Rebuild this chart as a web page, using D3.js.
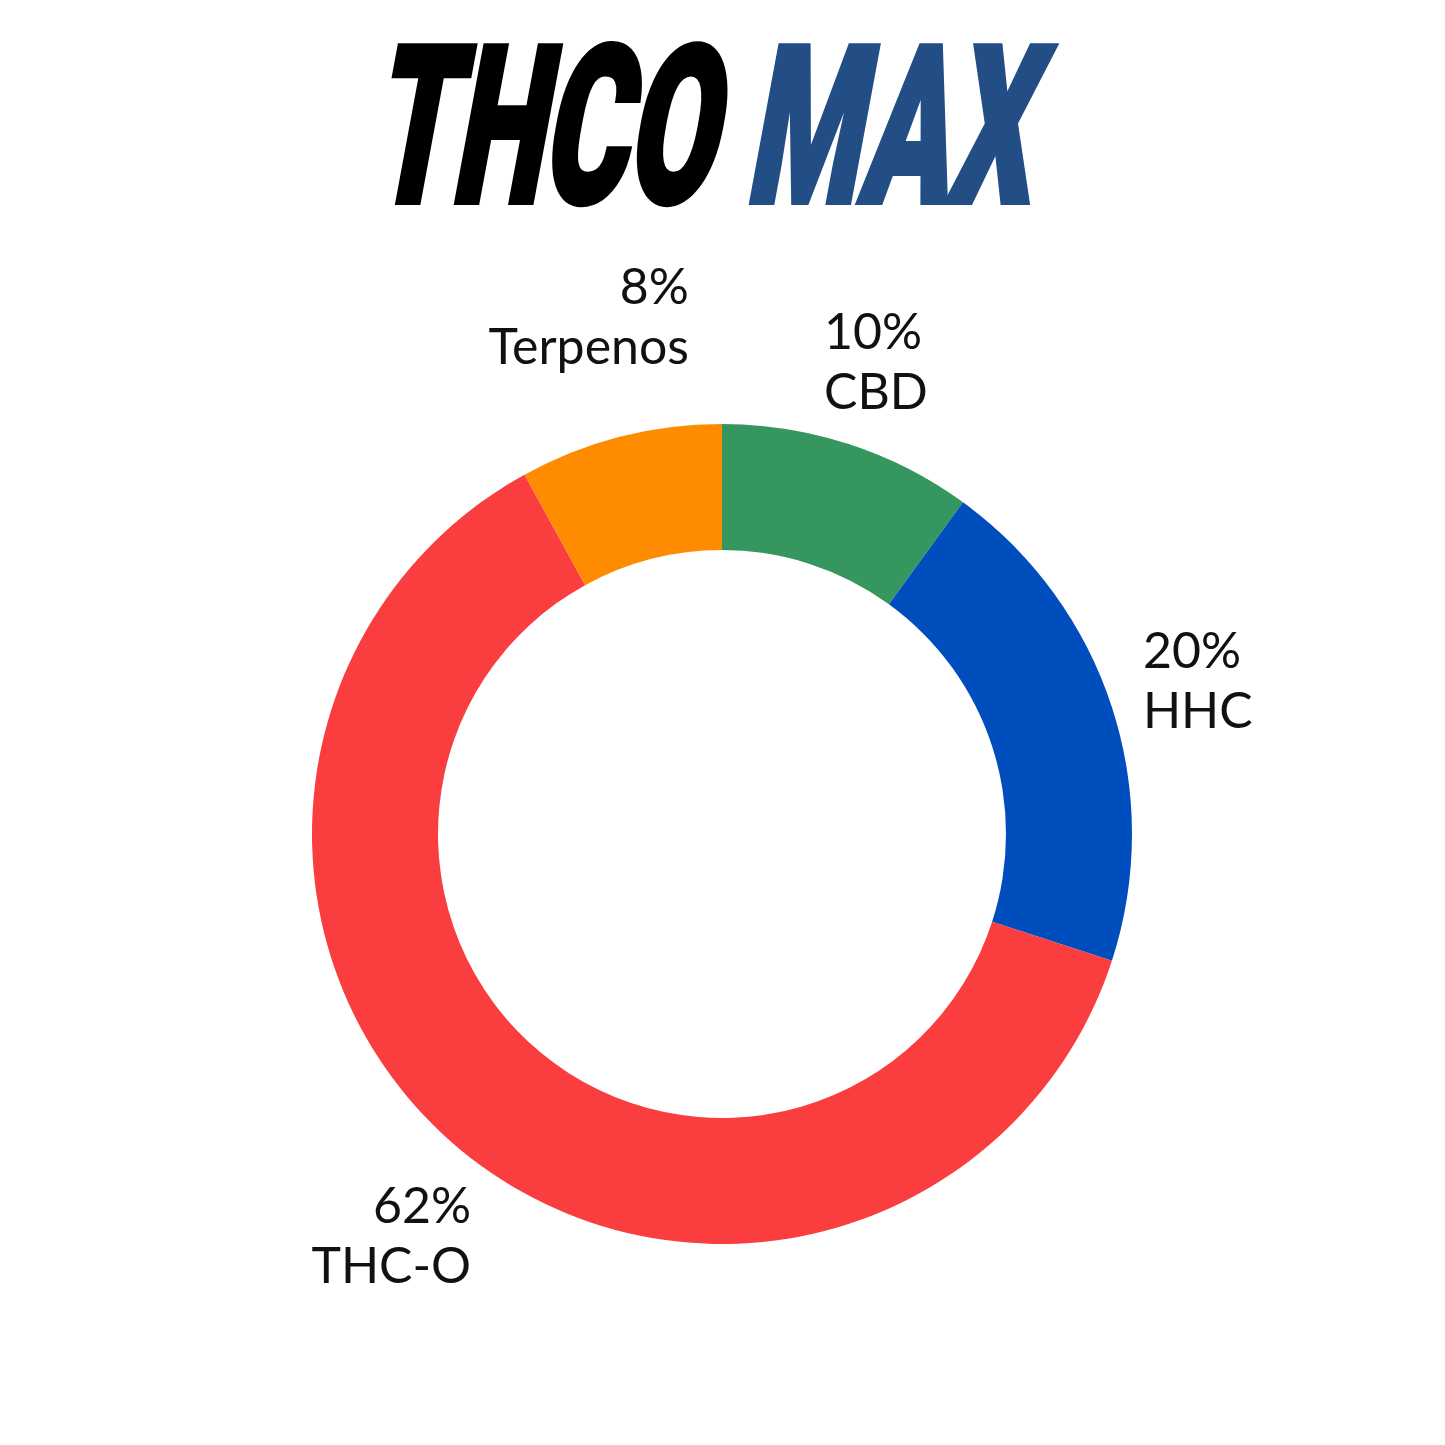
<!DOCTYPE html>
<html lang="en">
<head>
  <meta charset="utf-8">
  <title>THCO MAX</title>
  <script src="https://d3js.org/d3.v7.min.js"></script>
  <style>
    body { margin: 0; background: #fff; }
    .label { font-family: Lato, 'Open Sans', sans-serif; font-size: 50px; fill: #111; }
    .title { font-family: Roboto, 'DejaVu Sans', sans-serif; font-weight: 900; font-size: 219px; }
  </style>
</head>
<body>
  <div id="chart"></div>
  <script>

    // data
    var categories = ['CBD', 'HHC', 'THC-O', 'Terpenos'];
    var shares = [10, 20, 62, 8];
    var colors = ['#35965f', '#004dbd', '#fa3e3f', '#ff8c00'];
    var titleWords = ['THCO', 'MAX'];
    var titleColors = ['#000000', '#234e85'];

    var W = 1445, H = 1445;
    var cx = 722, cy = 834;
    var outerR = 410, innerR = 284;
    var labelRadius = 419;

    var svg = d3.select('#chart')
      .append('svg')
      .attr('width', W)
      .attr('height', H);

    // title, squeezed and slanted like the logo
    var titleSpans = [[368, 712], [744, 1028]];
    svg.selectAll('.title')
      .data(titleWords)
      .enter()
      .append('text')
      .attr('class', 'title')
      .attr('transform', function(d, i) { return 'translate(' + titleSpans[i][0] + ',202) skewX(-10.5)'; })
      .attr('x', 0)
      .attr('y', 0)
      .attr('textLength', function(d, i) { return titleSpans[i][1] - titleSpans[i][0]; })
      .attr('lengthAdjust', 'spacingAndGlyphs')
      .attr('fill', function(d, i) { return titleColors[i]; })
      .attr('stroke', function(d, i) { return titleColors[i]; })
      .attr('stroke-width', 6)
      .attr('stroke-linejoin', 'miter')
      .text(function(d) { return d; });

    var rows = categories.map(function(c, i) { return { name: c, value: shares[i], color: colors[i] }; });

    var pie = d3.pie()
      .sort(null)
      .value(function(d) { return d.value; });

    var arc = d3.arc()
      .innerRadius(innerR)
      .outerRadius(outerR);

    var g = svg.append('g')
      .attr('transform', 'translate(' + cx + ',' + cy + ')');

    var arcs = pie(rows);

    g.selectAll('path')
      .data(arcs)
      .enter()
      .append('path')
      .attr('d', arc)
      .attr('fill', function(d) { return d.data.color; });

    // labels: box centre on the mid angle, pushed out by half its diagonal
    var labels = g.selectAll('.lab')
      .data(arcs)
      .enter()
      .append('g')
      .attr('class', 'lab');

    labels.each(function(d) {
      var mid = (d.startAngle + d.endAngle) / 2;
      var anchor = Math.sin(mid) >= 0 ? 'start' : 'end';
      var sel = d3.select(this);
      var t = sel.append('text')
        .attr('class', 'label')
        .attr('text-anchor', anchor);
      t.append('tspan').attr('x', 0).attr('dy', 0).text(d.data.value + '%');
      t.append('tspan').attr('x', 0).attr('dy', 60).text(d.data.name);

      var bb = t.node().getBBox();
      var hw = bb.width / 2, hh = bb.height / 2;
      var rc = labelRadius + Math.sqrt(hw * hw + hh * hh);
      var bx = Math.sin(mid) * rc, by = -Math.cos(mid) * rc;
      var dx = bx - (bb.x + hw), dy = by - (bb.y + hh);
      sel.attr('transform', 'translate(' + dx + ',' + dy + ')');
    });

  </script>
</body>
</html>
